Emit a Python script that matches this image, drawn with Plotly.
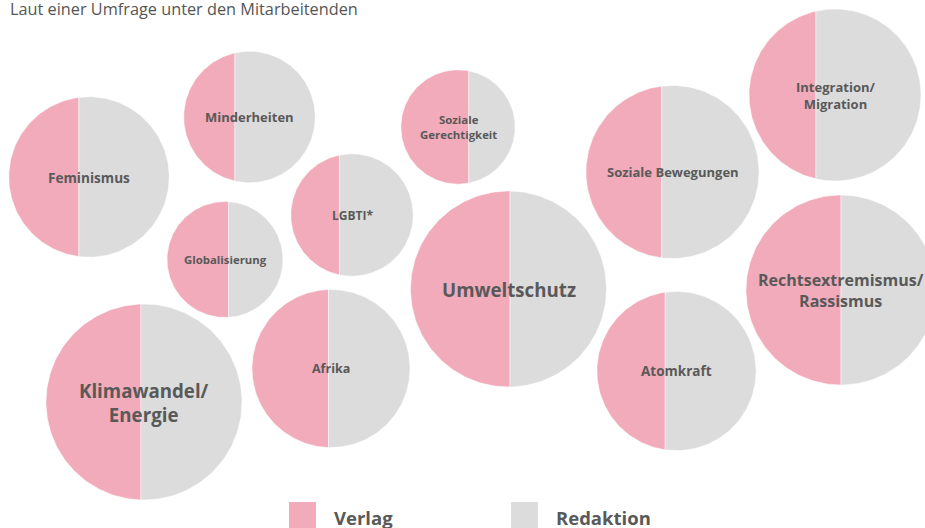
import math
import plotly.graph_objects as go

# ---------------- data ----------------
topics = ["Feminismus", "Minderheiten", "Soziale<br>Gerechtigkeit", "Integration/<br>Migration",
          "Globalisierung", "LGBTI*", "Soziale Bewegungen", "Umweltschutz",
          "Rechtsextremismus/<br>Rassismus", "Klimawandel/<br>Energie", "Afrika", "Atomkraft"]
totals = [67, 45, 34, 77, 35, 39, 78, 100, 94, 100, 65, 66]          # relative number of mentions
verlag_share = [42, 36, 62, 36, 54, 37, 42, 51, 50, 48, 48, 41]      # % Verlag (rest Redaktion)
series = ["Verlag", "Redaktion"]

# ---------------- layout (bubble placement, px) ----------------
centers = [(89, 177), (249.5, 117), (458, 127), (835, 95),
           (225, 259.5), (352, 215), (672.5, 172), (508.5, 289),
           (841, 290), (144, 402), (331, 368.5), (676.5, 371)]
label_sizes = [13.6, 13, 11.4, 13, 11.4, 12, 13, 18.7, 16, 18.7, 12.5, 13.5]
R_MAX = 98.0
PINK = "#F1ABBA"
GREY = "#DCDCDC"
TEXT = "#595959"
FONT = "Open Sans"


def split_t(frac):
    """chord offset t (=d/R) so that the area left of the chord equals frac"""
    lo, hi = -1.0, 1.0
    for _ in range(60):
        mid = (lo + hi) / 2
        a = (math.pi / 2 + math.asin(mid) + mid * math.sqrt(1 - mid * mid)) / math.pi
        if a < frac:
            lo = mid
        else:
            hi = mid
    return (lo + hi) / 2


def region(cx, cy, r, t, left):
    a0 = math.acos(t)
    n = 120
    if left:
        angs = [a0 + (2 * math.pi - 2 * a0) * i / n for i in range(n + 1)]
    else:
        angs = [-a0 + (2 * a0) * i / n for i in range(n + 1)]
    xs = [cx + r * math.cos(a) for a in angs]
    ys = [cy + r * math.sin(a) for a in angs]
    xs.append(xs[0])
    ys.append(ys[0])
    return xs, ys


fig = go.Figure()
for topic, tot, share, (cx, cy) in zip(topics, totals, verlag_share, centers):
    r = R_MAX * math.sqrt(tot / 100.0)
    t = split_t(share / 100.0)
    name = topic.replace("<br>", " ")
    for left, col, s, lab in [(True, PINK, share, series[0]), (False, GREY, 100 - share, series[1])]:
        xs, ys = region(cx, cy, r, t, left)
        fig.add_trace(go.Scatter(
            x=xs, y=ys, mode="lines", fill="toself", fillcolor=col,
            line=dict(width=0.8, color="rgba(255,255,255,0.6)"),
            hoverinfo="text", text=f"{name}<br>{lab}: {s}%", showlegend=False))

for topic, fs, (cx, cy) in zip(topics, label_sizes, centers):
    fig.add_annotation(x=cx, y=cy, text=topic, showarrow=False,
                       font=dict(family=FONT, size=fs, color=TEXT, weight=700),
                       xanchor="center", yanchor="middle", align="center")

# title
fig.add_annotation(xref="paper", yref="paper", x=8 / 925, y=1 - 9 / 528,
                   text="Laut einer Umfrage unter den Mitarbeitenden", showarrow=False,
                   xanchor="left", yanchor="middle",
                   font=dict(family=FONT, size=16.3, color="#555555"))

# legend
for lab, col, x0 in [(series[0], PINK, 289), (series[1], GREY, 511)]:
    fig.add_shape(type="rect", xref="paper", yref="paper",
                  x0=x0 / 925, x1=(x0 + 27) / 925, y0=0, y1=26 / 528,
                  fillcolor=col, line=dict(width=0))
    fig.add_annotation(xref="paper", yref="paper", x=(x0 + 43) / 925, y=11 / 528,
                       text=lab, showarrow=False, xanchor="left", yanchor="middle",
                       font=dict(family=FONT, size=18.5, color=TEXT, weight=700))

fig.update_layout(
    width=925, height=528, autosize=False,
    margin=dict(l=0, r=0, t=0, b=0),
    paper_bgcolor="white", plot_bgcolor="white",
    xaxis=dict(range=[0, 925], visible=False, fixedrange=True),
    yaxis=dict(range=[528, 0], visible=False, fixedrange=True),
    showlegend=False,
)

fig.write_html("out.html", config={"displayModeBar": False},
               post_script="document.body.style.margin='0';document.body.style.overflow='hidden';")
